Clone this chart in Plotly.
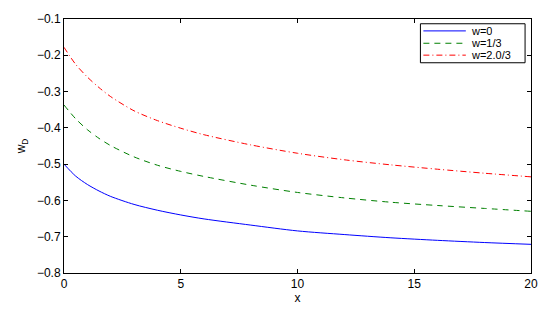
import plotly.graph_objects as go

x = [0, 0.5, 1, 1.5, 2, 3, 4, 5, 6, 8, 10, 12, 14, 16, 18, 20]
w0 = [-0.500, -0.533, -0.556, -0.574, -0.589, -0.611, -0.627, -0.640, -0.651,
      -0.668, -0.684, -0.694, -0.703, -0.710, -0.716, -0.721]
w13 = [-0.337, -0.375, -0.405, -0.429, -0.449, -0.480, -0.503, -0.520, -0.534,
       -0.558, -0.578, -0.593, -0.605, -0.614, -0.622, -0.630]
w23 = [-0.178, -0.225, -0.260, -0.289, -0.314, -0.353, -0.380, -0.401, -0.419,
       -0.447, -0.470, -0.488, -0.502, -0.514, -0.525, -0.535]
names = ["w=0", "w=1/3", "w=2.0/3"]
colors = ["#0000ff", "#008000", "#ff0000"]
dashes = ["solid", "6px,5px", "6px,3px,1px,3px"]
series = [w0, w13, w23]

FONT = "Liberation Sans, Arial, Helvetica"

fig = go.Figure()
for name, ys, c, d in zip(names, series, colors, dashes):
    fig.add_trace(go.Scatter(x=x, y=ys, mode="lines", name=name, showlegend=False,
                             hoverinfo="skip",
                             line=dict(color=c, width=1, dash=d, shape="spline", smoothing=0.8)))

axis_common = dict(showgrid=False, zeroline=False, showline=True, linecolor="black",
                   linewidth=1, mirror="ticks", ticks="inside", ticklen=4,
                   tickcolor="black", tickfont=dict(family=FONT, size=12, color="black"))
fig.update_xaxes(range=[0, 20], tickvals=[0, 5, 10, 15, 20],
                 title=dict(text="x", font=dict(family=FONT, size=12, color="black"), standoff=0),
                 **axis_common)
fig.update_yaxes(range=[-0.8, -0.1], tickvals=[-0.8, -0.7, -0.6, -0.5, -0.4, -0.3, -0.2, -0.1],
                 tickformat=".1f",
                 title=dict(text="w<sub>D</sub>", font=dict(family=FONT, size=12, color="black"), standoff=8),
                 **axis_common)

# compact MATLAB-style legend box (paper coordinates relative to plot area)
L, R, T, B = 64, 537, 12, 279
def px(v):
    return (v - L) / (R - L)
def py(v):
    return (B - v) / (B - T)

fig.add_shape(type="rect", xref="paper", yref="paper",
              x0=px(425), x1=px(531), y0=py(58), y1=py(17),
              line=dict(color="black", width=1), fillcolor="white", layer="above")
rows = [24.5, 37.5, 50]
for name, c, d, ry in zip(names, colors, dashes, rows):
    fig.add_shape(type="line", xref="paper", yref="paper",
                  x0=px(428), x1=px(471), y0=py(ry), y1=py(ry),
                  line=dict(color=c, width=1, dash=d), layer="above")
    fig.add_annotation(xref="paper", yref="paper", x=px(475), y=py(ry),
                       text=name, showarrow=False, xanchor="left", yanchor="middle",
                       borderpad=0, height=12,
                       font=dict(family=FONT, size=11, color="black"))

fig.update_layout(
    width=550, height=312,
    margin=dict(l=64, r=13, t=12, b=33),
    paper_bgcolor="white", plot_bgcolor="white",
    showlegend=False,
)
fig.write_html("out.html", config={"displayModeBar": False},
               post_script="document.body.style.margin='0';document.body.style.overflow='hidden';")
